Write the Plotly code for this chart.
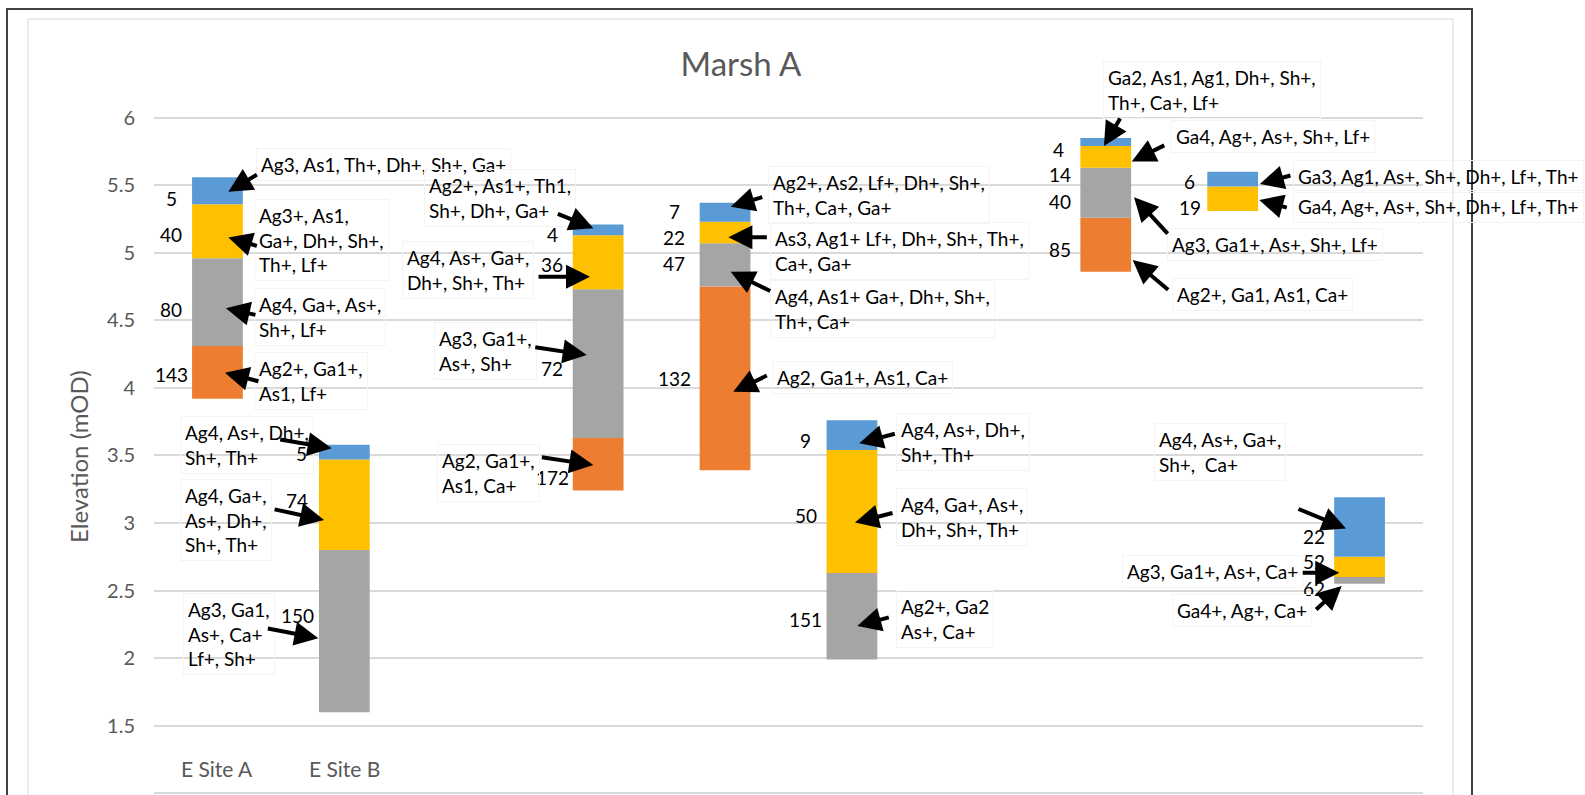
import plotly.graph_objects as go

# Data
slots = [0, 1, 3, 4, 5, 7, 8, 9]
blue_top = [5.56, 3.58, 5.21, 5.37, 3.76, 5.85, 5.60, 3.19]
blue_bot = [5.36, 3.47, 5.13, 5.23, 3.54, 5.79, 5.49, 2.75]
yellow_bot = [4.96, 2.80, 4.73, 5.07, 2.63, 5.63, 5.31, 2.60]
gray_bot = [4.31, 1.60, 3.63, 4.75, 1.99, 5.26, None, 2.55]
orange_bot = [3.92, None, 3.24, 3.39, None, 4.86, None, None]

site_names = ["E Site A", "E Site B"]
tick_vals = [1, 1.5, 2, 2.5, 3, 3.5, 4, 4.5, 5, 5.5, 6]
tick_text = ["1", "1.5", "2", "2.5", "3", "3.5", "4", "4.5", "5", "5.5", "6"]

# numbers written beside the bars
num_text = ["5", "40", "80", "143",
            "5", "74", "150",
            "4", "36", "72", "172",
            "7", "22", "47", "132",
            "9", "50", "151",
            "4", "14", "40", "85",
            "6", "19",
            "22", "52", "62"]
num_slot = [0, 0, 0, 0, 1, 1, 1, 3, 3, 3, 3, 4, 4, 4, 4, 5, 5, 5,
            7, 7, 7, 7, 8, 8, 9, 9, 9]

# unit descriptions
desc_text = [
    "Ag3, As1, Th+, Dh+, Sh+, Ga+",
    "Ag3+, As1,<br>Ga+, Dh+, Sh+,<br>Th+, Lf+",
    "Ag4, Ga+, As+,<br>Sh+, Lf+",
    "Ag2+, Ga1+,<br>As1, Lf+",
    "Ag4, As+, Dh+,<br>Sh+, Th+",
    "Ag4, Ga+,<br>As+, Dh+,<br>Sh+, Th+",
    "Ag3, Ga1,<br>As+, Ca+<br>Lf+, Sh+",
    "Ag2+, As1+, Th1,<br>Sh+, Dh+, Ga+",
    "Ag4, As+, Ga+,<br>Dh+, Sh+, Th+",
    "Ag3, Ga1+,<br>As+, Sh+",
    "Ag2, Ga1+,<br>As1, Ca+",
    "Ag2+, As2, Lf+, Dh+, Sh+,<br>Th+, Ca+, Ga+",
    "As3, Ag1+ Lf+, Dh+, Sh+, Th+,<br>Ca+, Ga+",
    "Ag4, As1+ Ga+, Dh+, Sh+,<br>Th+, Ca+",
    "Ag2, Ga1+, As1, Ca+",
    "Ag4, As+, Dh+,<br>Sh+, Th+",
    "Ag4, Ga+, As+,<br>Dh+, Sh+, Th+",
    "Ag2+, Ga2<br>As+, Ca+",
    "Ga2, As1, Ag1, Dh+, Sh+,<br>Th+, Ca+, Lf+",
    "Ga4, Ag+, As+, Sh+, Lf+",
    "Ag3, Ga1+, As+, Sh+, Lf+",
    "Ag2+, Ga1, As1, Ca+",
    "Ga3, Ag1, As+, Sh+, Dh+, Lf+, Th+",
    "Ga4, Ag+, As+, Sh+, Dh+, Lf+, Th+",
    "Ag4, As+, Ga+,<br>Sh+,  Ca+",
    "Ag3, Ga1+, As+, Ca+",
    "Ga4+, Ag+, Ca+",
]

# placement (layout only)
num_y = [5.403, 5.132, 4.582, 4.096,
         3.511, 3.170, 2.319,
         5.132, 4.910, 4.145, 3.335,
         5.304, 5.115, 4.922, 4.071,
         3.609, 3.059, 2.287,
         5.761, 5.576, 5.378, 5.026,
         5.526, 5.337,
         2.899, 2.714, 2.517]
num_shift = [-46, -46, -46, -46, -43, -47, -47, -46, -46, -46, -46,
             -51, -51, -51, -51, -46, -46, -46, -47, -46, -46, -46,
             -43, -43, -46, -46, -46]

desc_x = [0.341, 0.330, 0.330, 0.330, -0.256, -0.256, -0.234, 1.669, 1.496,
          1.746, 1.767, 4.380, 4.396, 4.396, 4.412, 5.384, 5.384, 5.384,
          7.015, 7.551, 7.520, 7.564, 8.513, 8.513, 7.422, 7.170, 7.564]
desc_y = [5.657, 5.096, 4.525, 4.049, 3.574, 3.022, 2.177, 5.407, 4.876,
          4.271, 3.370, 5.426, 5.012, 4.583, 4.076, 3.602, 3.041, 2.291,
          6.205, 5.859, 5.058, 4.688, 5.568, 5.341, 3.528, 2.640, 2.356]

arrow_x = [0.086, 0.086, 0.067, 0.059, 0.900, 0.840, 0.795, 2.962, 2.936,
           2.910, 2.962, 4.045, 4.026, 4.045, 4.065, 5.058, 5.024, 5.042,
           6.986, 7.205, 7.223, 7.212, 8.215, 8.210, 8.893, 8.840, 8.859]
arrow_y = [5.452, 5.114, 4.590, 4.113, 3.553, 3.022, 2.147, 5.182, 4.823,
           4.243, 3.429, 5.341, 5.115, 4.860, 3.971, 3.590, 3.003, 2.238,
           5.790, 5.675, 5.412, 4.947, 5.509, 5.391, 2.960, 2.632, 2.534]
arrow_dx = [30, 30, 31, 35, -53, -51, -52, -37, -53, -53, -53, 33, 40, 41,
            35, 37, 39, 33, 17, 34, 35, 37, 32, 29, -49, -38, -27]
arrow_dy = [-18, 9, 7, 9, -9, -11, -10, -15, 0, -8, -8, -10, 0, 20, -17,
            -10, -10, -9, -29, -17, 38, 31, -9, 8, -20, 0, 25]

colors = {"blue": "#5B9BD5", "yellow": "#FFC000", "gray": "#A5A5A5", "orange": "#ED7D31"}
FONT = "Lato, 'Open Sans', sans-serif"
W, H = 1585, 795
L, R = 154, 1423

fig = go.Figure()

layers = [
    ("orange", gray_bot, orange_bot),
    ("gray", yellow_bot, gray_bot),
    ("yellow", blue_bot, yellow_bot),
    ("blue", blue_top, blue_bot),
]
for name, tops, bots in layers:
    xs, hs, bs = [], [], []
    for s, t, b in zip(slots, tops, bots):
        if t is None or b is None:
            continue
        xs.append(s)
        hs.append(round(t - b, 3))
        bs.append(b)
    fig.add_trace(go.Bar(x=xs, y=hs, base=bs, width=0.4, name=name,
                         marker=dict(color=colors[name], line_width=0),
                         hoverinfo="skip", showlegend=False))

ann = []
for t, s, y, sh in zip(num_text, num_slot, num_y, num_shift):
    ann.append(dict(x=s, y=y, xref="x", yref="y", text=t, showarrow=False,
                    xshift=sh, xanchor="center", yanchor="middle",
                    font=dict(family=FONT, size=19, color="#000000")))
for t, x, y in zip(desc_text, desc_x, desc_y):
    ann.append(dict(x=x, y=y, xref="x", yref="y", text=t, showarrow=False,
                    xanchor="left", yanchor="middle", align="left", xshift=-5,
                    bordercolor="#f4f4f4", borderwidth=1, borderpad=4,
                    font=dict(family=FONT, size=19, color="#000000")))
for x, y, dx, dy in zip(arrow_x, arrow_y, arrow_dx, arrow_dy):
    ann.append(dict(x=x, y=y, xref="x", yref="y", text="", showarrow=True,
                    ax=dx, ay=dy, arrowhead=2, arrowsize=1.2, arrowwidth=4,
                    arrowcolor="#000000", standoff=0, startstandoff=0))
for i, name in enumerate(site_names):
    ann.append(dict(x=i, y=1.184, xref="x", yref="y", text=name, showarrow=False,
                    font=dict(family=FONT, size=21, color="#595959")))
ann.append(dict(x=(78 - L) / (R - L), y=1 - 457 / H, xref="paper", yref="paper",
                xanchor="center", yanchor="middle",
                text="Elevation (mOD)", textangle=-90, showarrow=False,
                font=dict(family=FONT, size=24, color="#595959")))

shapes = [
    dict(type="rect", xref="paper", yref="paper", layer="below",
         x0=(28 - L) / (R - L), x1=(1453 - L) / (R - L), y0=-0.05, y1=1 - 19 / H,
         line=dict(color="#d9d9d9", width=1)),
    dict(type="rect", xref="paper", yref="paper", layer="above",
         x0=(7 - L) / (R - L), x1=(1472 - L) / (R - L), y0=-0.05, y1=1 - 9 / H,
         line=dict(color="#404040", width=2)),
]

px_per = 135.1
y_top = 6 + 117.7 / px_per
y_bot = 6 - (H - 117.7) / px_per

fig.update_layout(
    width=W, height=H,
    margin=dict(l=L, r=W - R, t=0, b=0),
    paper_bgcolor="white", plot_bgcolor="white",
    barmode="overlay",
    title=dict(text="Marsh A", x=741 / W, y=1 - 64 / H, xanchor="center", yanchor="middle",
               font=dict(family=FONT, size=33, color="#595959")),
    xaxis=dict(range=[-0.5, 9.5], showgrid=False, zeroline=False,
               showticklabels=False, showline=False, fixedrange=True),
    yaxis=dict(range=[y_bot, y_top], tickvals=tick_vals, ticktext=tick_text,
               showgrid=True, gridcolor="#d9d9d9", gridwidth=1.5, zeroline=False,
               showline=False, ticks="", ticklabelstandoff=18,
               tickfont=dict(family=FONT, size=20, color="#595959")),
    annotations=ann,
    shapes=shapes,
)

fig.write_html("out.html", config={"displayModeBar": False},
               post_script="document.body.style.margin='0';")
